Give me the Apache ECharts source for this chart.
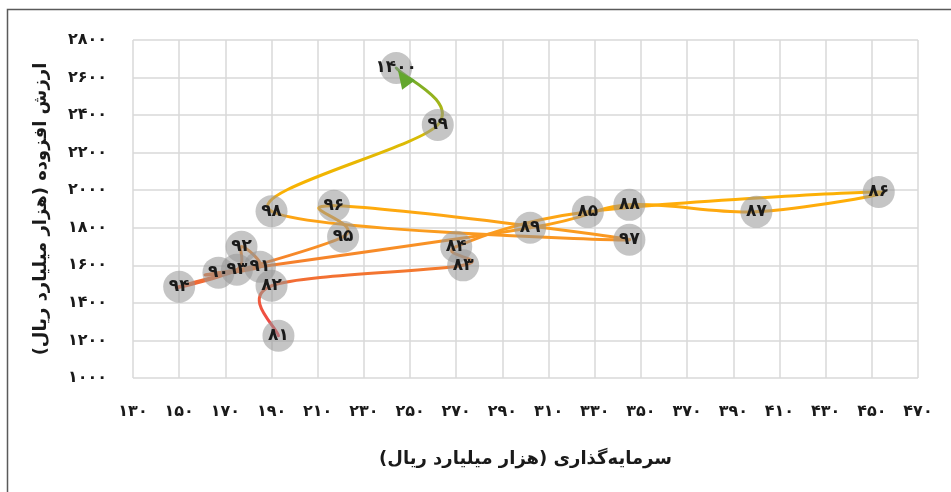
<!DOCTYPE html>
<html>
<head>
<meta charset="utf-8">
<script src="https://cdn.jsdelivr.net/npm/echarts@6/dist/echarts.min.js"></script>
<style>
  html, body { margin: 0; padding: 0; background: #fff; }
  #chart { width: 951px; height: 492px; }
</style>
</head>
<body>
<div id="chart"></div>
<script>
// Years (Persian calendar) shown on each marker
const years = ['۸۱','۸۲','۸۳','۸۴','۸۵','۸۶','۸۷','۸۸','۸۹','۹۰','۹۱','۹۲','۹۳','۹۴','۹۵','۹۶','۹۷','۹۸','۹۹','۱۴۰۰'];
// Investment (thousand billion rials)
const investment = [193, 190, 273, 270, 327, 453, 400, 345, 302, 167, 185, 177, 175, 150, 221, 217, 345, 190, 262, 244];
// Value added (thousand billion rials)
const valueAdded = [1225, 1491, 1600, 1699, 1885, 1991, 1885, 1922, 1800, 1561, 1593, 1699, 1577, 1486, 1752, 1917, 1736, 1888, 2348, 2651];

const xTitle = 'سرمایه‌گذاری (هزار میلیارد ریال)';
const yTitle = 'ارزش افزوده (هزار میلیارد ریال)';

const FONT = 'DejaVu Sans';
const faDigits = '۰۱۲۳۴۵۶۷۸۹';
function toFa(n) {
  return String(n).replace(/[0-9]/g, d => faDigits[+d]);
}

const points = investment.map((x, i) => [x, valueAdded[i]]);
const N = points.length;

// colour ramp running bottom (red) to top (green) of the path
const rampStops = [
  { offset: 0.00, color: '#5fa82f' },
  { offset: 0.12, color: '#9cb41c' },
  { offset: 0.22, color: '#d0bd08' },
  { offset: 0.42, color: '#f5b400' },
  { offset: 0.50, color: '#ffae08' },
  { offset: 0.60, color: '#fb9e1e' },
  { offset: 0.68, color: '#f78c28' },
  { offset: 0.75, color: '#f47a2e' },
  { offset: 0.82, color: '#f06438' },
  { offset: 1.00, color: '#ee3f4a' }
];

const chart = echarts.init(document.getElementById('chart'));

// one smoothed (Catmull-Rom style) bezier segment from point i to i+1
function renderSegment(params, api) {
  const i = params.dataIndex;
  if (i >= N - 1) return null;
  const P = k => api.coord(points[Math.max(0, Math.min(N - 1, k))]);
  const p0 = P(i - 1), p1 = P(i), p2 = P(i + 1), p3 = P(i + 2);
  const c1 = [p1[0] + (p2[0] - p0[0]) / 6, p1[1] + (p2[1] - p0[1]) / 6];
  const c2 = [p2[0] - (p3[0] - p1[0]) / 6, p2[1] - (p3[1] - p1[1]) / 6];
  const yTop = api.coord([points[0][0], Math.max.apply(null, valueAdded)])[1];
  const yBot = api.coord([points[0][0], Math.min.apply(null, valueAdded)])[1];
  const grad = new echarts.graphic.LinearGradient(0, yTop, 0, yBot, rampStops, true);
  return {
    type: 'bezierCurve',
    shape: { x1: p1[0], y1: p1[1], cpx1: c1[0], cpy1: c1[1], cpx2: c2[0], cpy2: c2[1], x2: p2[0], y2: p2[1] },
    style: { fill: null, stroke: grad, lineWidth: 3, lineCap: 'round' }
  };
}

// arrow head at the end of the path, oriented along the last segment
function renderArrow(params, api) {
  const p1 = api.coord(points[N - 2]);
  const p2 = api.coord(points[N - 1]);
  let dx = p2[0] - p1[0], dy = p2[1] - p1[1];
  const len = Math.hypot(dx, dy);
  dx /= len; dy /= len;
  const tip = [p2[0] - dx * 3, p2[1] - dy * 3];
  const base = [tip[0] - dx * 18, tip[1] - dy * 18];
  const nx = -dy, ny = dx;
  return {
    type: 'polygon',
    shape: { points: [tip, [base[0] + nx * 8, base[1] + ny * 8], [base[0] - nx * 8, base[1] - ny * 8]] },
    style: { fill: '#63a72d' }
  };
}

chart.setOption({
  animation: false,
  backgroundColor: '#ffffff',
  textStyle: { fontFamily: FONT },
  graphic: [{
    type: 'rect',
    shape: { x: 7.5, y: 9.5, width: 1200, height: 1200 },
    style: { fill: 'none', stroke: '#5a5a5a', lineWidth: 1.5 },
    silent: true,
    z: 100
  }],
  grid: { left: 133, right: 33, top: 40, bottom: 114, containLabel: false },
  xAxis: {
    type: 'value',
    min: 130, max: 470, interval: 20,
    axisLine: { show: false },
    axisTick: { show: false },
    splitLine: { show: true, lineStyle: { color: '#d9d9d9', width: 1.5 } },
    axisLabel: {
      margin: 26, formatter: v => toFa(v),
      fontFamily: FONT, fontSize: 16, fontWeight: 'bold', color: '#1a1a1a'
    },
    name: xTitle, nameLocation: 'middle', nameGap: 72,
    nameTextStyle: { fontFamily: FONT, fontSize: 18, fontWeight: 'bold', color: '#1a1a1a' }
  },
  yAxis: {
    type: 'value',
    min: 1000, max: 2800, interval: 200,
    axisLine: { show: false },
    axisTick: { show: false },
    splitLine: { show: true, lineStyle: { color: '#d9d9d9', width: 1.5 } },
    axisLabel: {
      margin: 26, formatter: v => toFa(v),
      fontFamily: FONT, fontSize: 16, fontWeight: 'bold', color: '#1a1a1a'
    },
    name: yTitle, nameLocation: 'middle', nameGap: 83, nameRotate: 90,
    nameTextStyle: { fontFamily: FONT, fontSize: 18, fontWeight: 'bold', color: '#1a1a1a' }
  },
  series: [
    {
      type: 'custom',
      data: points,
      renderItem: renderSegment,
      clip: false,
      z: 1
    },
    {
      type: 'scatter',
      data: points,
      symbol: 'circle',
      symbolSize: 32,
      itemStyle: { color: 'rgba(150,150,150,0.55)', borderWidth: 0, opacity: 1 },
      label: {
        show: true, position: 'inside',
        formatter: p => years[p.dataIndex],
        fontFamily: FONT, fontSize: 17, fontWeight: 'bold', color: '#1a1a1a'
      },
      z: 2
    },
    {
      type: 'custom',
      data: [points[N - 1]],
      renderItem: renderArrow,
      clip: false,
      z: 3
    }
  ]
});
</script>
</body>
</html>
